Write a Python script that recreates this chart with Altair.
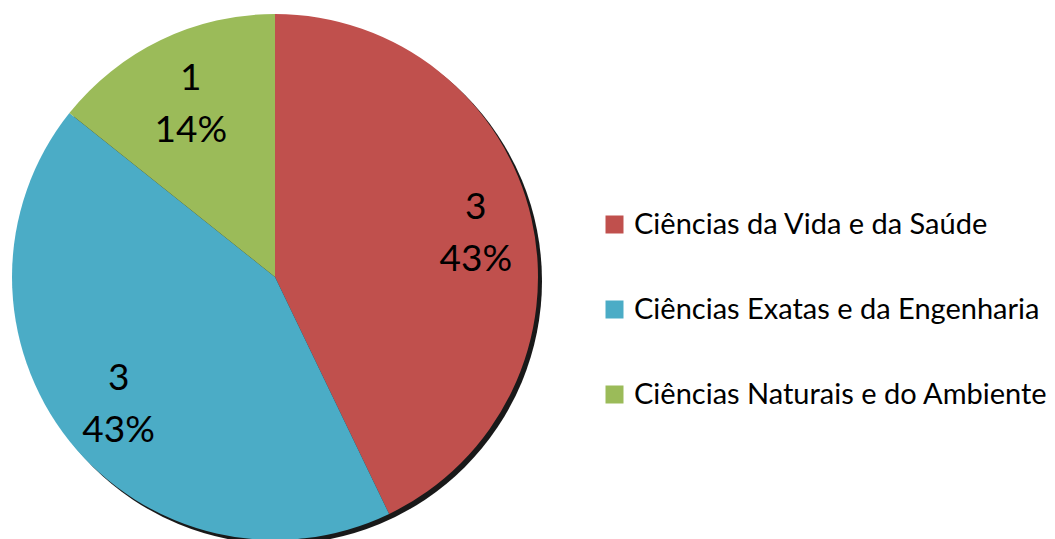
import altair as alt
import pandas as pd

categories = ["Ciências da Vida e da Saúde", "Ciências Exatas e da Engenharia", "Ciências Naturais e do Ambiente"]
values = [3, 3, 1]
percent_labels = ["43%", "43%", "14%"]
colors = ["#C0504D", "#4BACC6", "#9BBB59"]

df = pd.DataFrame({
    "cat": categories,
    "value": values,
    "pct": percent_labels,
    "order": list(range(len(categories))),
})
df["count_label"] = df["value"].astype(str)
total = float(sum(values))

cx, cy, R = 267, 269, 263
theta_scale = alt.Scale(domain=[0, total], range=[0, 6.283185307179586])
label_radius_scale = alt.Scale(domain=[0, 1, 2], range=[206, 194, 182.5])

shadow = alt.Chart(pd.DataFrame({"s": [1]})).mark_arc(
    theta=0, theta2=6.2832, radius=R, x=cx + 4, y=cy + 4, opacity=0.9
).encode(color=alt.value("black"))

base = alt.Chart(df).transform_stack(
    stack="value", groupby=[], as_=["v0", "v1"],
    sort=[alt.SortField("order", order="ascending")],
).transform_calculate(mid="(datum.v0 + datum.v1) / 2")

pie = base.mark_arc(radius=R, x=cx, y=cy).encode(
    theta=alt.Theta("v0:Q", scale=theta_scale),
    theta2="v1:Q",
    color=alt.Color(
        "cat:N",
        scale=alt.Scale(domain=categories, range=colors),
        sort=categories,
        legend=alt.Legend(
            title=None, orient="none", legendX=592, legendY=202,
            symbolType="square", symbolSize=324, symbolStrokeWidth=0,
            symbolOpacity=1,
            labelFontSize=29, labelFont="Lato", labelColor="black",
            rowPadding=55, labelOffset=5, padding=0, labelLimit=0,
        ),
    ),
)

t1 = base.mark_text(dy=-26, fontSize=37, font="Lato", color="black", x=cx, y=cy + 3).encode(
    theta=alt.Theta("mid:Q", scale=theta_scale),
    text="count_label:N",
    radius=alt.Radius("order:O", scale=label_radius_scale),
)
t2 = base.mark_text(dy=26, fontSize=37, font="Lato", color="black", x=cx, y=cy + 3).encode(
    theta=alt.Theta("mid:Q", scale=theta_scale),
    text="pct:N",
    radius=alt.Radius("order:O", scale=label_radius_scale),
)

chart = alt.layer(shadow, pie, t1, t2).properties(
    width=1039, height=531, padding=0,
    autosize=alt.AutoSizeParams(type="none"),
).configure_view(stroke=None)

chart.save("out.html", embed_options={"renderer": "svg", "actions": False})
